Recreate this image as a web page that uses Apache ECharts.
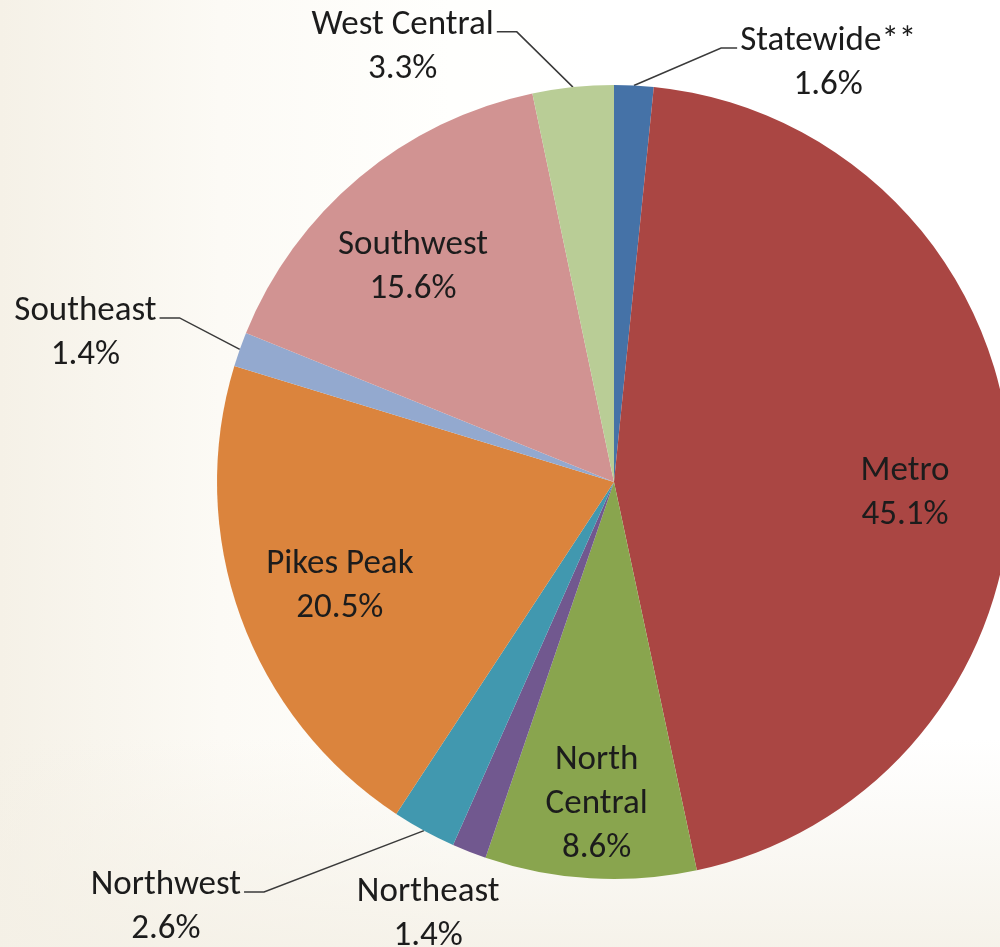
<!DOCTYPE html>
<html>
<head>
<meta charset="utf-8">
<script src="https://cdn.jsdelivr.net/npm/echarts@6/dist/echarts.min.js"></script>
<style>
  html, body { margin: 0; padding: 0; }
  body {
    width: 1000px; height: 947px; overflow: hidden;
    background:
      linear-gradient(to top, rgba(244, 240, 230, 0.85) 0%, rgba(255, 255, 255, 0) 22%),
      linear-gradient(to right, #f5f1e7 0%, #fcfaf5 22%, #fffffd 45%, #ffffff 60%);
  }
  #chart { width: 1000px; height: 947px; }
</style>
</head>
<body>
<div id="chart"></div>
<script>
const categories = ['Statewide**', 'Metro', 'North Central', 'Northeast', 'Northwest', 'Pikes Peak', 'Southeast', 'Southwest', 'West Central'];
const shares = [1.6, 45.1, 8.6, 1.4, 2.6, 20.5, 1.4, 15.6, 3.3];
const colors = ['#4572a7', '#aa4643', '#89a54e', '#71588f', '#4198af', '#db843d', '#93a9cf', '#d19392', '#b9cd96'];
// which slices carry their label inside
const insideLabel = ['Metro', 'North Central', 'Pikes Peak', 'Southwest'];
// leader line lengths for the outside labels [radial, horizontal]
const leader = {
  'Statewide**': [24, 97],
  'West Central': [40, 70],
  'Southeast': [48, 33],
  'Northwest': [25, 40],
  'Northeast': [65, 0]
};
// small label nudges [dx, dy] to match the original placement
const nudge = {
  'Statewide**': [3, 2],
  'Northwest': [-126, 55],
  'Northeast': [59, 2],
  'Metro': [0, 27],
  'North Central': [0, 31],
  'Southwest': [-14, 9],
  'Pikes Peak': [0, 5]
};

const FONT = 'Carlito, Lato, sans-serif';
const textStyle = { fontFamily: FONT, fontSize: 35, color: '#1c1c1c', lineHeight: 44, align: 'center' };

const fmt = (name, v) => name === 'North Central'
  ? '{t|North}\n{t|Central}\n{t|' + v.toFixed(1) + '%}'
  : '{t|' + name + '}\n{t|' + v.toFixed(1) + '%}';

const moveLabel = p => {
  const n = nudge[categories[p.dataIndex]] || [0, 0];
  return { dx: n[0], dy: n[1] };
};

// Excel-style leader: straight from the slice to a short tick under the first text line
const moveOuterLabel = p => {
  const out = moveLabel(p);
  const pts = p.labelLinePoints;
  if (!pts || insideLabel.includes(categories[p.dataIndex])) return out;
  const r = p.labelRect;
  const y = r.y + out.dy + 24;
  const rightSide = pts[2][0] > pts[0][0];
  const endX = rightSide ? r.x + out.dx - 3 : r.x + out.dx + r.width + 3;
  const tickX = rightSide ? endX - 16 : endX + 20;
  out.labelLinePoints = [pts[0], [tickX, y], [endX, y]];
  return out;
};

const chart = echarts.init(document.getElementById('chart'));

const outerData = categories.map((name, i) => {
  const out = !insideLabel.includes(name);
  return {
    name, value: shares[i],
    itemStyle: { color: colors[i] },
    label: { show: out },
    labelLine: {
      show: out && name !== 'Northeast',
      length: out ? leader[name][0] : 0,
      length2: out ? leader[name][1] : 0
    }
  };
});

const innerData = categories.map((name, i) => ({
  name, value: shares[i],
  label: { show: insideLabel.includes(name) }
}));

chart.setOption({
  backgroundColor: 'transparent',
  animation: false,
  series: [
    {
      type: 'pie',
      center: [614, 482],
      radius: [0, 397],
      startAngle: 90,
      clockwise: true,
      avoidLabelOverlap: false,
      silent: true,
      itemStyle: { borderWidth: 0 },
      label: {
        position: 'outside',
        alignTo: 'none',
        distanceToLabelLine: 5,
        formatter: p => fmt(p.name, p.value),
        rich: { t: textStyle }
      },
      labelLine: { lineStyle: { color: '#3a3a3a', width: 1.5 }, smooth: false },
      labelLayout: moveOuterLabel,
      data: outerData
    },
    {
      type: 'pie',
      center: [614, 482],
      radius: [180, 397],
      startAngle: 90,
      clockwise: true,
      avoidLabelOverlap: false,
      silent: true,
      itemStyle: { color: 'rgba(0,0,0,0)', borderWidth: 0 },
      label: {
        position: 'inside',
        formatter: p => fmt(p.name, p.value),
        rich: { t: textStyle }
      },
      labelLine: { show: false },
      labelLayout: moveLabel,
      data: innerData
    }
  ]
});
</script>
</body>
</html>
